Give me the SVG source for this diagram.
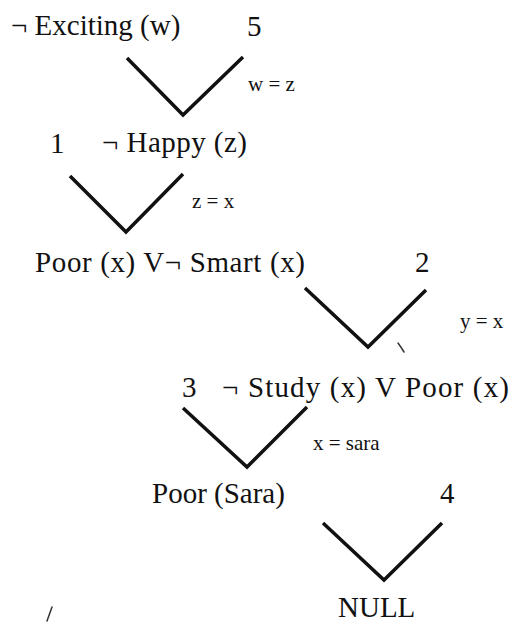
<svg xmlns="http://www.w3.org/2000/svg" width="511" height="622" viewBox="0 0 511 622">
<style>
.t{font-family:"Liberation Serif","Times New Roman",serif;font-size:29px;fill:#111}
.s{font-family:"Liberation Serif","Times New Roman",serif;font-size:21px;fill:#111}
.v{fill:none;stroke:#111;stroke-width:3.5;stroke-linejoin:miter}
.m{fill:none;stroke:#333;stroke-width:1.5;stroke-linecap:round}
</style>
<rect width="511" height="622" fill="#fff"/>
<g id="connectors">
<polyline class="v" points="127,58 183,115 243,57"/>
<polyline class="v" points="70,176 126,232 183,174"/>
<polyline class="v" points="305,288 368,347 426,290"/>
<polyline class="v" points="183,408 247,467 307,407"/>
<polyline class="v" points="323,523 384,580 442,523"/>
<text class="s" x="248" y="91">w = z</text>
<text class="s" x="192" y="208">z = x</text>
<text class="s" x="460" y="328">y = x</text>
<text class="s" x="313" y="450">x = sara</text>
</g>
<g id="c5"><text class="t" x="11" y="35">¬ Exciting (w)</text><text class="t" x="247" y="36">5</text></g>
<g id="c1"><text class="t" x="50" y="153">1</text><text class="t" x="102" y="152" textLength="145" lengthAdjust="spacing">¬ Happy (z)</text></g>
<g id="r1"><text class="t" x="35" y="272" textLength="270" lengthAdjust="spacing">Poor (x) V¬ Smart (x)</text></g>
<g id="c2"><text class="t" x="415" y="272">2</text></g>
<g id="c3"><text class="t" x="182" y="397">3</text><text class="t" x="222" y="397" textLength="287" lengthAdjust="spacing">¬ Study (x) V Poor (x)</text></g>
<g id="r2"><text class="t" x="152" y="503">Poor (Sara)</text></g>
<g id="c4"><text class="t" x="440" y="503">4</text></g>
<g id="r3"><text class="t" x="338" y="617">NULL</text></g>
<g id="marks">
<path class="m" d="M52,607 L47,621"/>
<path class="m" d="M398,343 q3,4 6,9"/>
</g>
</svg>
